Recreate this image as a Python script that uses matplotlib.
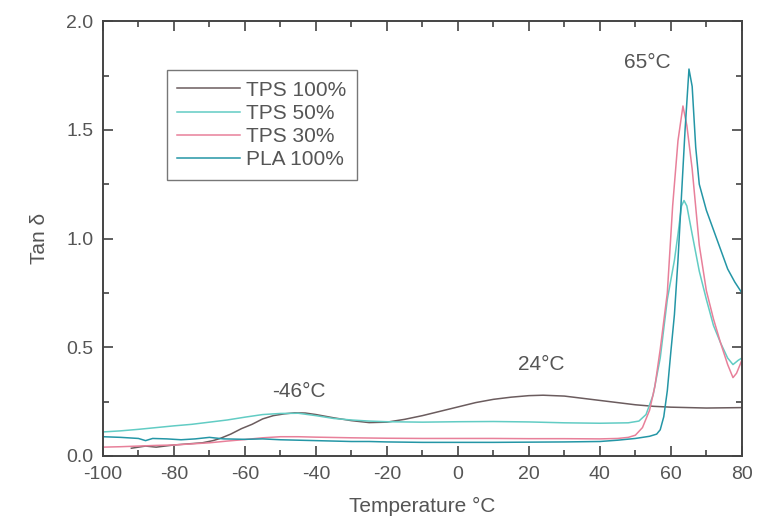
import matplotlib.pyplot as plt
from matplotlib.ticker import MultipleLocator

plt.rcParams['font.family'] = ['Liberation Sans', 'DejaVu Sans']
plt.rcParams['axes.unicode_minus'] = False

# TPS 100%
t_tps100 = [-92, -88, -85, -80, -76, -72, -69, -67, -64, -61, -58, -55, -52, -49, -46, -43,
            -40, -35, -30, -25, -20, -15, -10, -5, 0, 5, 10, 15, 20, 24, 30, 35, 40, 45,
            50, 55, 60, 65, 70, 75, 80]
v_tps100 = [0.035, 0.045, 0.040, 0.050, 0.055, 0.060, 0.070, 0.080, 0.100, 0.125, 0.145,
            0.170, 0.185, 0.193, 0.198, 0.197, 0.190, 0.175, 0.162, 0.153, 0.155, 0.168,
            0.185, 0.205, 0.225, 0.245, 0.260, 0.270, 0.277, 0.279, 0.275, 0.265, 0.255,
            0.245, 0.235, 0.228, 0.224, 0.222, 0.220, 0.221, 0.222]

# TPS 50%
t_tps50 = [-100, -95, -90, -85, -80, -75, -70, -65, -60, -55, -50, -45, -40, -35, -30, -25,
           -20, -10, 0, 10, 20, 30, 40, 48, 51, 53, 55, 57, 59, 61, 62, 63, 63.7, 64.5,
           66, 68, 70, 72, 74, 76, 77.5, 79, 80]
v_tps50 = [0.110, 0.115, 0.122, 0.130, 0.138, 0.145, 0.155, 0.165, 0.178, 0.190, 0.195,
           0.196, 0.185, 0.172, 0.165, 0.160, 0.157, 0.155, 0.157, 0.158, 0.156, 0.152,
           0.150, 0.152, 0.160, 0.190, 0.280, 0.450, 0.720, 0.900, 1.020, 1.150, 1.175,
           1.150, 1.020, 0.850, 0.720, 0.600, 0.520, 0.450, 0.420, 0.440, 0.450]

# TPS 30%
t_tps30 = [-100, -95, -90, -85, -80, -75, -70, -65, -60, -55, -50, -45, -40, -30, -20, -10,
           0, 10, 20, 30, 40, 45, 48, 50, 52, 54, 55.5, 57, 59, 60.5, 62, 63.4, 64.5, 66,
           68, 70, 72, 74, 76, 77.5, 78.5, 80]
v_tps30 = [0.040, 0.042, 0.045, 0.048, 0.050, 0.055, 0.060, 0.068, 0.075, 0.083, 0.088,
           0.088, 0.086, 0.083, 0.081, 0.080, 0.080, 0.080, 0.079, 0.079, 0.078, 0.080,
           0.085, 0.095, 0.130, 0.210, 0.320, 0.490, 0.750, 1.150, 1.450, 1.610, 1.520,
           1.320, 0.970, 0.760, 0.630, 0.520, 0.420, 0.360, 0.380, 0.440]

# PLA 100%
t_pla = [-100, -95, -90, -88, -86, -82, -78, -74, -70, -66, -60, -55, -50, -45, -40, -35,
         -30, -25, -20, -10, 0, 10, 20, 30, 40, 45, 50, 54, 56, 57, 58, 59, 60, 61, 62,
         63, 64, 65.1, 66, 67, 68, 70, 72, 74, 76, 78, 80]
v_pla = [0.088, 0.085, 0.080, 0.070, 0.080, 0.078, 0.074, 0.078, 0.085, 0.078, 0.076,
         0.078, 0.074, 0.072, 0.070, 0.068, 0.066, 0.066, 0.064, 0.062, 0.062, 0.062,
         0.063, 0.064, 0.066, 0.072, 0.080, 0.090, 0.100, 0.120, 0.180, 0.300, 0.480,
         0.650, 0.900, 1.200, 1.500, 1.780, 1.700, 1.420, 1.250, 1.130, 1.040, 0.950,
         0.860, 0.800, 0.750]

fig = plt.figure(figsize=(7.57, 5.18), dpi=100)
ax = fig.add_axes([0.136, 0.12, 0.844, 0.839])

ax.plot(t_tps100, v_tps100, color='#6b5c5e', lw=1.1, label='TPS 100%')
ax.plot(t_tps50, v_tps50, color='#62ccc4', lw=1.1, label='TPS 50%')
ax.plot(t_tps30, v_tps30, color='#e8809a', lw=1.1, label='TPS 30%')
ax.plot(t_pla, v_pla, color='#2496a6', lw=1.1, label='PLA 100%')

ax.set_xlim(-100, 80)
ax.set_ylim(0, 2.0)
ax.xaxis.set_major_locator(MultipleLocator(20))
ax.xaxis.set_minor_locator(MultipleLocator(10))
ax.yaxis.set_major_locator(MultipleLocator(0.5))
ax.yaxis.set_minor_locator(MultipleLocator(0.25))
ax.yaxis.set_major_formatter(plt.FormatStrFormatter('%.1f'))
ax.tick_params(which='both', direction='in', top=True, right=True, colors='#444444',
               labelcolor='#555555', labelsize=14, width=1.2)
ax.tick_params(which='major', length=7, pad=7)
ax.tick_params(which='minor', length=4)
for s in ax.spines.values():
    s.set_color('#444444')
    s.set_linewidth(1.4)

ax.set_xlabel('Temperature °C', fontsize=15, color='#555555', labelpad=10)
ax.set_ylabel('Tan δ', fontsize=15, color='#555555', labelpad=12)

ax.text(-44.8, 0.295, '-46°C', fontsize=15, color='#555555', ha='center', va='center')
ax.text(23.4, 0.42, '24°C', fontsize=15, color='#555555', ha='center', va='center')
ax.text(53.5, 1.81, '65°C', fontsize=15, color='#555555', ha='center', va='center')

leg = ax.legend(loc='upper left', bbox_to_anchor=(0.1, 0.887), fontsize=15,
                frameon=True, fancybox=False, handlelength=3.0, borderpad=0.5,
                labelspacing=0.2, handletextpad=0.3, borderaxespad=0)
leg.get_frame().set_edgecolor('#555555')
leg.get_frame().set_linewidth(1.0)
for txt in leg.get_texts():
    txt.set_color('#555555')

fig.savefig('out.png', dpi=100)
